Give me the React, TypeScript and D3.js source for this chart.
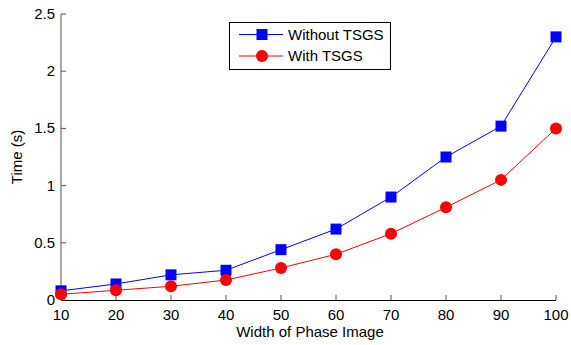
import React from "react";
import * as d3 from "d3";

const widths = [10, 20, 30, 40, 50, 60, 70, 80, 90, 100];
const withoutTSGS = [0.08, 0.14, 0.22, 0.26, 0.44, 0.62, 0.9, 1.25, 1.52, 2.3];
const withTSGS = [0.05, 0.085, 0.12, 0.175, 0.28, 0.4, 0.58, 0.81, 1.05, 1.5];
const xTicks = [10, 20, 30, 40, 50, 60, 70, 80, 90, 100];
const yTicks = [0, 0.5, 1, 1.5, 2, 2.5];
const yTickLabels = ["0", "0.5", "1", "1.5", "2", "2.5"];

const W = 571;
const H = 345;
const left = 61;
const right = 556;
const top = 14;
const bottom = 300;
const font = "'Liberation Sans', Arial, Helvetica, sans-serif";
const fs = 15;

export default function App() {
  const x = d3.scaleLinear().domain([10, 100]).range([left, right]);
  const y = d3.scaleLinear().domain([0, 2.5]).range([bottom, top]);
  const line = d3
    .line<number>()
    .x((_, i) => x(widths[i]))
    .y((d) => y(d));

  return (
    <svg
      width={W}
      height={H}
      style={{ position: "absolute", left: 0, top: 0, background: "#fff" }}
      fontFamily={font}
    >
      <rect x={0} y={0} width={W} height={H} fill="#fff" />
      {/* axes */}
      <line x1={left} y1={top} x2={left} y2={bottom} stroke="#555" strokeWidth={1} />
      <line x1={left} y1={bottom + 0.5} x2={right} y2={bottom + 0.5} stroke="#000" strokeWidth={1} />
      {yTicks.map((t, i) => (
        <g key={"y" + i}>
          <line x1={left} x2={left + 5} y1={y(t)} y2={y(t)} stroke="#555" />
          <text x={left - 6} y={y(t) + 5} fontSize={fs} textAnchor="end" fill="#000">
            {yTickLabels[i]}
          </text>
        </g>
      ))}
      {xTicks.map((t, i) => (
        <g key={"x" + i}>
          <line x1={x(t)} x2={x(t)} y1={bottom} y2={bottom - 5} stroke="#555" />
          <text x={x(t)} y={bottom + 20} fontSize={fs} textAnchor="middle" fill="#000">
            {t}
          </text>
        </g>
      ))}
      <text x={310} y={337} fontSize={fs} textAnchor="middle" fill="#000">
        Width of Phase Image
      </text>
      <text
        transform={`translate(22,${(top + bottom) / 2}) rotate(-90)`}
        fontSize={fs}
        textAnchor="middle"
        fill="#000"
      >
        Time (s)
      </text>

      {/* series */}
      <path d={line(withoutTSGS) || ""} fill="none" stroke="#0000ff" strokeWidth={1} />
      <path d={line(withTSGS) || ""} fill="none" stroke="#ff0000" strokeWidth={1} />
      {withoutTSGS.map((v, i) => (
        <rect
          key={"b" + i}
          x={x(widths[i]) - 5.5}
          y={y(v) - 5.5}
          width={11}
          height={11}
          fill="#0000ff"
        />
      ))}
      {withTSGS.map((v, i) => (
        <circle key={"r" + i} cx={x(widths[i])} cy={y(v)} r={6} fill="#ff0000" />
      ))}

      {/* legend */}
      <rect x={229.5} y={22.5} width={161} height={47} fill="#fff" stroke="#000" strokeWidth={1} />
      <line x1={239} x2={283} y1={34.5} y2={34.5} stroke="#0000ff" />
      <rect x={256.5} y={29} width={11} height={11} fill="#0000ff" />
      <text x={288} y={40} fontSize={fs} fill="#000">
        Without TSGS
      </text>
      <line x1={239} x2={283} y1={56} y2={56} stroke="#ff0000" />
      <circle cx={262} cy={56} r={6} fill="#ff0000" />
      <text x={288} y={61} fontSize={fs} fill="#000">
        With TSGS
      </text>
    </svg>
  );
}
